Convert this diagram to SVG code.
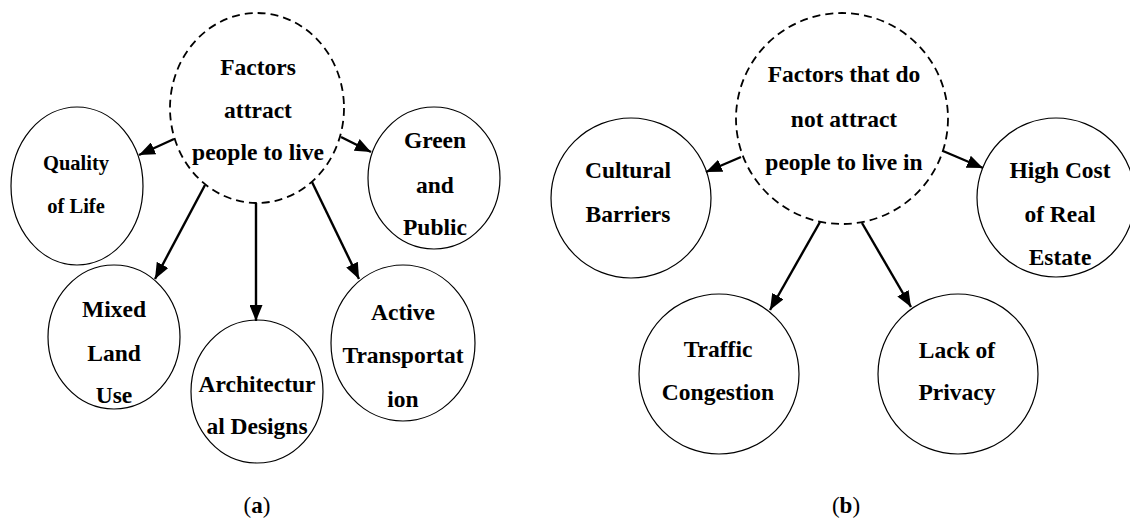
<svg xmlns="http://www.w3.org/2000/svg" width="1130" height="520" viewBox="0 0 1130 520">
  <style>
    .node { fill: #fff; stroke: #000; stroke-width: 1.2; }
    .hub { fill: #fff; stroke: #000; stroke-width: 1.8; stroke-dasharray: 8 5; }
    .lbl { font-family: "Liberation Serif", "Times New Roman", serif; font-weight: bold; font-size: 23.5px; text-anchor: middle; fill: #000; }
    .sm { font-size: 20.5px; }
    .edge { stroke: #000; stroke-width: 2.4; fill: none; marker-end: url(#head); }
    .cap { font-family: "Liberation Serif", "Times New Roman", serif; font-size: 23px; text-anchor: middle; fill: #000; }
  </style>
  <defs>
    <marker id="head" markerUnits="userSpaceOnUse" markerWidth="17" markerHeight="13" refX="16" refY="6.5" orient="auto">
      <path d="M0,0 L16,6.5 L0,13 z" fill="#000"/>
    </marker>
  </defs>
  <rect width="1130" height="520" fill="#fff"/>

  <!-- panel (a) -->
  <g id="a-quality">
    <ellipse class="node" cx="77" cy="186" rx="66" ry="79"/>
    <text class="lbl sm" x="76" y="170">Quality</text>
    <text class="lbl sm" x="76" y="213">of Life</text>
  </g>
  <g id="a-green">
    <ellipse class="node" cx="434" cy="178" rx="66" ry="71"/>
    <text class="lbl" x="435" y="148">Green</text>
    <text class="lbl" x="435" y="193">and</text>
    <text class="lbl" x="435" y="235">Public</text>
  </g>
  <g id="a-mixed">
    <ellipse class="node" cx="114" cy="337" rx="66" ry="72"/>
    <text class="lbl" x="114" y="317">Mixed</text>
    <text class="lbl" x="114" y="361">Land</text>
    <text class="lbl" x="114" y="403">Use</text>
  </g>
  <g id="a-architectural">
    <ellipse class="node" cx="257" cy="391.5" rx="66" ry="71.5"/>
    <text class="lbl" x="257" y="392">Architectur</text>
    <text class="lbl" x="257" y="434">al Designs</text>
  </g>
  <g id="a-active">
    <ellipse class="node" cx="403" cy="343" rx="72" ry="78"/>
    <text class="lbl" x="403" y="320">Active</text>
    <text class="lbl" x="403" y="363">Transportat</text>
    <text class="lbl" x="403" y="407">ion</text>
  </g>
  <g id="a-hub">
    <ellipse class="hub" cx="257" cy="108" rx="87" ry="95"/>
    <text class="lbl" x="258" y="75">Factors</text>
    <text class="lbl" x="258" y="118">attract</text>
    <text class="lbl" x="258" y="160">people to live</text>
  </g>

  <!-- panel (b) -->
  <g id="b-cultural">
    <ellipse class="node" cx="631" cy="198" rx="80" ry="80"/>
    <text class="lbl" x="628" y="178">Cultural</text>
    <text class="lbl" x="628" y="222">Barriers</text>
  </g>
  <g id="b-cost">
    <ellipse class="node" cx="1056" cy="197.5" rx="79" ry="79.5"/>
    <text class="lbl" x="1060" y="178">High Cost</text>
    <text class="lbl" x="1060" y="222">of Real</text>
    <text class="lbl" x="1060" y="265">Estate</text>
  </g>
  <g id="b-traffic">
    <ellipse class="node" cx="719" cy="374" rx="80" ry="80"/>
    <text class="lbl" x="718" y="357">Traffic</text>
    <text class="lbl" x="718" y="400">Congestion</text>
  </g>
  <g id="b-privacy">
    <ellipse class="node" cx="958" cy="374" rx="80" ry="80"/>
    <text class="lbl" x="957" y="358">Lack of</text>
    <text class="lbl" x="957" y="400">Privacy</text>
  </g>
  <g id="b-hub">
    <ellipse class="hub" cx="842" cy="118.5" rx="106" ry="105.5"/>
    <text class="lbl" x="844" y="82">Factors that do</text>
    <text class="lbl" x="844" y="127">not attract</text>
    <text class="lbl" x="844" y="170">people to live in</text>
  </g>

  <!-- connectors -->
  <g id="connectors">
    <line class="edge" x1="174" y1="139" x2="139" y2="155"/>
    <line class="edge" x1="341" y1="137" x2="371" y2="152"/>
    <line class="edge" x1="205" y1="185" x2="155" y2="279"/>
    <line class="edge" x1="256" y1="203" x2="256" y2="321"/>
    <line class="edge" x1="312" y1="182" x2="359" y2="279"/>
    <line class="edge" x1="741" y1="157" x2="706" y2="172"/>
    <line class="edge" x1="943" y1="151" x2="983" y2="168"/>
    <line class="edge" x1="820" y1="222" x2="770" y2="310"/>
    <line class="edge" x1="862" y1="223" x2="911" y2="307"/>
  </g>

  <!-- sub-figure captions -->
  <text class="cap" x="257" y="513">(<tspan font-weight="bold">a</tspan>)</text>
  <text class="cap" x="846" y="513">(<tspan font-weight="bold">b</tspan>)</text>
</svg>
